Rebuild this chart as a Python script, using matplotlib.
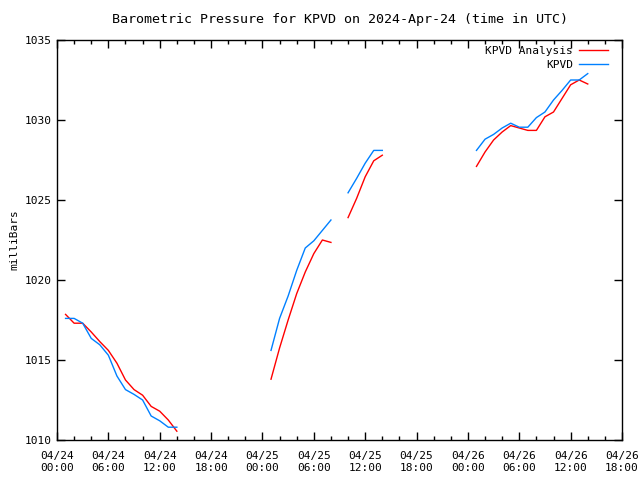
import numpy as np
import matplotlib
matplotlib.use("Agg")
import matplotlib.pyplot as plt
from matplotlib.ticker import MultipleLocator

# hours since 2024-04-24 00:00 UTC, NaN marks a gap in the record
hours = list(range(1, 15)) + [20] + list(range(25, 33)) + [33] + list(range(34, 39)) + [44] + list(range(49, 63))

kpvd = [1017.6, 1017.6, 1017.3, 1016.35, 1015.95, 1015.3, 1014.0, 1013.15, 1012.85, 1012.5, 1011.5, 1011.2, 1010.8, 1010.8,
        np.nan,
        1015.6, 1017.6, 1019.0, 1020.6, 1022.0, 1022.45, 1023.1, 1023.75,
        np.nan,
        1025.45, 1026.35, 1027.3, 1028.1, 1028.1,
        np.nan,
        1028.1, 1028.8, 1029.1, 1029.5, 1029.8, 1029.55, 1029.55, 1030.15, 1030.5, 1031.25, 1031.85, 1032.5, 1032.5, 1032.9]

analysis = [1017.85, 1017.3, 1017.3, 1016.75, 1016.15, 1015.6, 1014.8, 1013.75, 1013.15, 1012.8, 1012.1, 1011.8, 1011.25, 1010.55,
            np.nan,
            1013.8, 1015.75, 1017.5, 1019.15, 1020.5, 1021.65, 1022.5, 1022.35,
            np.nan,
            1023.9, 1025.1, 1026.45, 1027.45, 1027.8,
            np.nan,
            1027.1, 1028.0, 1028.75, 1029.25, 1029.65, 1029.5, 1029.35, 1029.35, 1030.2, 1030.5, 1031.35, 1032.2, 1032.5, 1032.25]

xtick_hours = list(range(0, 67, 6))
xtick_labels = ["04/24\n00:00", "04/24\n06:00", "04/24\n12:00", "04/24\n18:00",
                "04/25\n00:00", "04/25\n06:00", "04/25\n12:00", "04/25\n18:00",
                "04/26\n00:00", "04/26\n06:00", "04/26\n12:00", "04/26\n18:00"]

plt.rcParams['font.family'] = ['DejaVu Sans Mono']
plt.rcParams['font.size'] = 8

fig = plt.figure(figsize=(6.4, 4.8), dpi=100)
ax = fig.add_axes([57 / 640, 1 - 440 / 480, 565 / 640, 400 / 480])

ax.plot(hours, analysis, color='#ff0000', lw=1, label='KPVD Analysis')
ax.plot(hours, kpvd, color='#0080ff', lw=1, label='KPVD')

ax.set_xlim(0, 66)
ax.set_ylim(1010, 1035)
ax.set_xticks(xtick_hours)
ax.set_xticklabels(xtick_labels)
ax.xaxis.set_minor_locator(MultipleLocator(2))
ax.yaxis.set_major_locator(MultipleLocator(5))
ax.tick_params(which='both', direction='in', top=True, right=True, color='black')
ax.tick_params(which='major', length=6, width=1, pad=8)
ax.tick_params(which='minor', length=3, width=1)
ax.tick_params(axis='y', pad=4)
for s in ax.spines.values():
    s.set_linewidth(1)

ax.set_ylabel('milliBars', labelpad=4)
ax.set_title('Barometric Pressure for KPVD on 2024-Apr-24 (time in UTC)', pad=12)

leg = ax.legend(loc='upper right', frameon=False, markerfirst=False, handlelength=2.6,
                handletextpad=0.55, labelspacing=0.4, borderaxespad=0.1,
                bbox_to_anchor=(0.985, 1.0))
for t in leg.get_texts():
    t.set_ha('right')

fig.savefig('out.png', dpi=100)
